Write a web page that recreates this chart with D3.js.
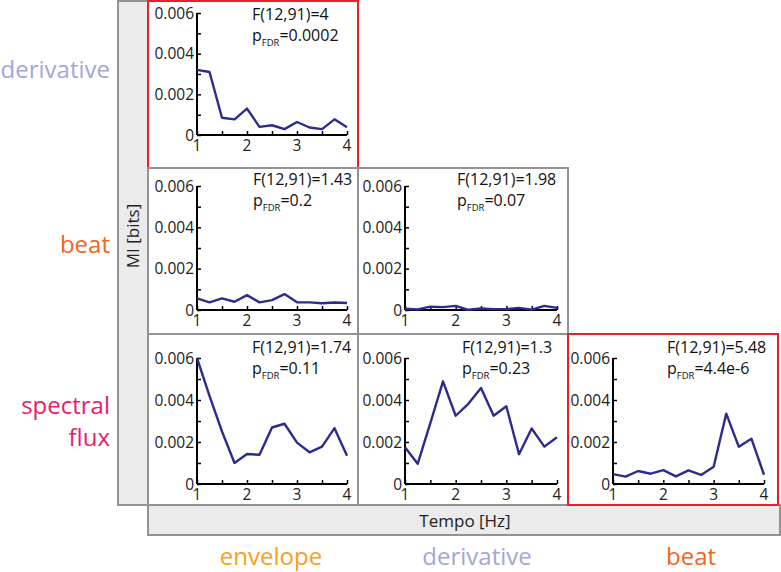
<!DOCTYPE html>
<html>
<head>
<meta charset="utf-8">
<script src="https://cdn.jsdelivr.net/npm/d3@7"></script>
<style>
  html, body { margin: 0; padding: 0; background: #fff; }
  svg { display: block; font-family: "Open Sans", "DejaVu Sans", sans-serif; }
</style>
</head>
<body>
<svg id="chart" width="781" height="572"></svg>
<script>
// ---------- DATA ----------
const tempo = [1, 1.25, 1.5, 1.75, 2, 2.25, 2.5, 2.75, 3, 3.25, 3.5, 3.75, 4];
const rowLabels = [["derivative"], ["beat"], ["spectral", "flux"]];
const colLabels = ["envelope", "derivative", "beat"];
const yTickLabels = ["0", "0.002", "0.004", "0.006"];
const xTickLabels = ["1", "2", "3", "4"];

// MI [bits], row feature vs column feature
const derivativeVsEnvelope = [0.0032, 0.0031, 0.00085, 0.00077, 0.0013, 0.0004, 0.00048, 0.00029, 0.00064, 0.00037, 0.00029, 0.00077, 0.00038];
const beatVsEnvelope = [0.00056, 0.00037, 0.00056, 0.0004, 0.00072, 0.00037, 0.00048, 0.00077, 0.00037, 0.00037, 0.00033, 0.00036, 0.00034];
const beatVsDerivative = [0.00006, 0.00003, 0.00016, 0.00014, 0.0002, 0.00001, 0.00008, 0.00004, 0.00005, 0.0001, 0.00002, 0.0002, 0.0001];
const fluxVsEnvelope = [0.006, 0.0042, 0.0025, 0.001, 0.00143, 0.00139, 0.00269, 0.00287, 0.00197, 0.00151, 0.00178, 0.00266, 0.00134];
const fluxVsDerivative = [0.00175, 0.00096, 0.0029, 0.00489, 0.00325, 0.00382, 0.00457, 0.00325, 0.0037, 0.00142, 0.00264, 0.00178, 0.00223];
const fluxVsBeat = [0.00047, 0.00035, 0.00062, 0.00049, 0.00066, 0.00036, 0.00065, 0.00043, 0.00082, 0.00335, 0.00177, 0.00216, 0.00044];

const fStats = ["4", "1.43", "1.98", "1.74", "1.3", "5.48"];
const pStats = ["0.0002", "0.2", "0.07", "0.11", "0.23", "4.4e-6"];
const significant = [true, false, false, false, false, true];

// ---------- LAYOUT ----------
const labelColors = { envelope: "#f8a01c", derivative: "#a3a6da", beat: "#f26522", "spectral flux": "#ec1a6e" };
const rowColorKeys = ["derivative", "beat", "spectral flux"];
const lineColor = "#2d2b8f";
const grayStroke = "#939393";
const redStroke = "#e8202a";

const rowTop = [1, 168, 334], rowBottom = [168, 334, 505];
const rowY0 = [135, 310, 484], rowYmax = [13, 186, 358];
const rowFBase = [20, 185, 353], rowPBase = [41, 206, 374];
const colLeft = [148, 358, 568], colRight = [358, 568, 778];
const colX1 = [197, 405, 613], colX4 = [347, 557, 764];

const panels = [
  { r: 0, c: 0, v: derivativeVsEnvelope, tx: 252 },
  { r: 1, c: 0, v: beatVsEnvelope, tx: 253 },
  { r: 1, c: 1, v: beatVsDerivative, tx: 457 },
  { r: 2, c: 0, v: fluxVsEnvelope, tx: 252 },
  { r: 2, c: 1, v: fluxVsDerivative, tx: 462 },
  { r: 2, c: 2, v: fluxVsBeat, tx: 667 }
];

const svg = d3.select("#chart");

// Gray label bars
svg.append("rect").attr("x", 118).attr("y", 1).attr("width", 30).attr("height", 504)
  .attr("fill", "#ebebeb").attr("stroke", grayStroke).attr("stroke-width", 2);
svg.append("rect").attr("x", 148).attr("y", 505).attr("width", 632).attr("height", 30)
  .attr("fill", "#ebebeb").attr("stroke", grayStroke).attr("stroke-width", 2);

svg.append("text").attr("transform", "translate(139,236) rotate(-90)")
  .attr("text-anchor", "middle").attr("font-size", 17).attr("fill", "#222").text("MI [bits]");
svg.append("text").attr("x", 465).attr("y", 527)
  .attr("text-anchor", "middle").attr("font-size", 17).attr("fill", "#222").text("Tempo [Hz]");

// Row labels
const rowBase = [[78], [253], [414, 446]];
rowLabels.forEach((lines, i) => {
  lines.forEach((t, j) => {
    svg.append("text").attr("x", 110).attr("y", rowBase[i][j])
      .attr("text-anchor", "end").attr("font-size", 24)
      .attr("fill", labelColors[rowColorKeys[i]]).text(t);
  });
});
// Column labels
const colCenter = [271, 477, 691];
colLabels.forEach((t, i) => {
  svg.append("text").attr("x", colCenter[i]).attr("y", 565)
    .attr("text-anchor", "middle").attr("font-size", 24)
    .attr("fill", labelColors[t]).text(t);
});

// Panels
panels.forEach((p, k) => {
  const g = svg.append("g");
  const x = d3.scaleLinear().domain([1, 4]).range([colX1[p.c], colX4[p.c]]);
  const y = d3.scaleLinear().domain([0, 0.006]).range([rowY0[p.r], rowYmax[p.r]]);

  // border
  g.append("rect")
    .attr("x", colLeft[p.c]).attr("y", rowTop[p.r])
    .attr("width", colRight[p.c] - colLeft[p.c]).attr("height", rowBottom[p.r] - rowTop[p.r])
    .attr("fill", "none")
    .attr("stroke", significant[k] ? redStroke : grayStroke)
    .attr("stroke-width", 2);

  // y axis: ticks every 0.001 pointing inward, labels at 0.002 steps
  const yAx = d3.axisRight(y).tickValues(d3.range(0, 0.0061, 0.001)).tickSize(4).tickFormat("");
  const yg = g.append("g").attr("transform", `translate(${colX1[p.c]},0)`).call(yAx);
  yg.select(".domain").attr("stroke", "#000").attr("stroke-width", 2).attr("d", `M0,${y(0)}V${y(0.006)}`);
  yg.selectAll(".tick line").attr("stroke", "#000").attr("stroke-width", 1.5);
  yTickLabels.forEach(t => {
    g.append("text").attr("x", colX1[p.c] - 3).attr("y", y(+t)).attr("dy", "0.36em")
      .attr("text-anchor", "end").attr("font-size", 15.5).attr("fill", "#222").text(t);
  });

  // x axis: ticks every 0.5 pointing inward, labels at integers
  const xAx = d3.axisTop(x).tickValues(d3.range(1, 4.01, 0.5)).tickSize(4).tickFormat("");
  const xg = g.append("g").attr("transform", `translate(0,${rowY0[p.r]})`).call(xAx);
  xg.select(".domain").attr("stroke", "#000").attr("stroke-width", 2).attr("d", `M${x(1)},0H${x(4)}`);
  xg.selectAll(".tick line").attr("stroke", "#000").attr("stroke-width", 1.5);
  xTickLabels.forEach(t => {
    g.append("text").attr("x", x(+t)).attr("y", rowY0[p.r] + 16)
      .attr("text-anchor", "middle").attr("font-size", 15.5).attr("fill", "#222").text(t);
  });

  // line
  const line = d3.line().x((d, i) => x(tempo[i])).y(d => y(d));
  g.append("path").datum(p.v).attr("d", line)
    .attr("fill", "none").attr("stroke", lineColor).attr("stroke-width", 2.4)
    .attr("stroke-linejoin", "round");

  // stats
  g.append("text").attr("x", p.tx).attr("y", rowFBase[p.r])
    .attr("font-size", 16).attr("fill", "#111").text(`F(12,91)=${fStats[k]}`);
  const pt = g.append("text").attr("x", p.tx).attr("y", rowPBase[p.r])
    .attr("font-size", 16).attr("fill", "#111");
  pt.append("tspan").text("p");
  pt.append("tspan").attr("font-size", 9.5).attr("dy", 5).text("FDR");
  pt.append("tspan").attr("dy", -5).text(`=${pStats[k]}`);
});
</script>
</body>
</html>
